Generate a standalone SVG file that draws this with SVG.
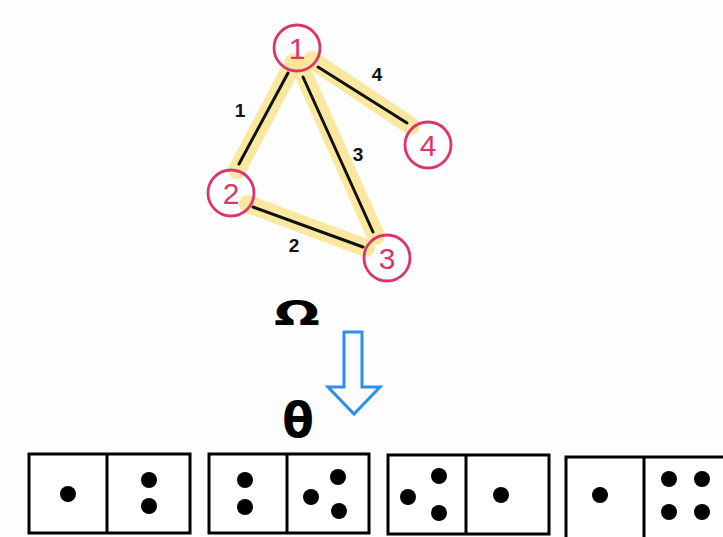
<svg xmlns="http://www.w3.org/2000/svg" width="723" height="537" viewBox="0 0 723 537">
<defs>
<style>
.hl{stroke:#fbe596;stroke-opacity:0.9;stroke-width:18;stroke-linecap:round;fill:none}
.edge{stroke:#111;stroke-width:3;stroke-linecap:round;fill:none}
.node{fill:none;stroke:#d9366d;stroke-width:2.8}
.nl{font-family:"Liberation Sans",Arial,sans-serif;font-size:30px;fill:#d9366d;text-anchor:middle;dominant-baseline:central}
.el{font-family:"Liberation Sans",Arial,sans-serif;font-size:19px;font-weight:bold;fill:#111;text-anchor:middle;dominant-baseline:central}
.sym{font-family:"DejaVu Sans",sans-serif;font-weight:bold;fill:#000;text-anchor:middle;dominant-baseline:central}
.dom{fill:#fff;stroke:#000;stroke-width:3}
.div{stroke:#000;stroke-width:3}
.dot{fill:#000}
</style>
</defs>
<rect width="723" height="537" fill="#fdfdfd"/>
<g id="connectors">
<line class="hl" x1="294" y1="62" x2="237" y2="170"/>
<line class="hl" x1="300" y1="66" x2="376" y2="236"/>
<line class="hl" x1="312" y1="60" x2="411" y2="126"/>
<line class="hl" x1="248" y1="204" x2="366" y2="248"/>
<line class="edge" x1="288" y1="73" x2="239" y2="164"/>
<line class="edge" x1="303" y1="77" x2="373" y2="232"/>
<line class="edge" x1="318" y1="67" x2="407" y2="123"/>
<line class="edge" x1="253" y1="207" x2="363" y2="247"/>
<text class="el" x="240" y="110">1</text>
<text class="el" x="377" y="74">4</text>
<text class="el" x="358" y="154">3</text>
<text class="el" x="294" y="245">2</text>
</g>
<g id="node1"><circle class="node" cx="297" cy="48" r="23"/><text class="nl" x="297" y="48">1</text></g>
<g id="node2"><circle class="node" cx="231" cy="193" r="23"/><text class="nl" x="231" y="193">2</text></g>
<g id="node3"><circle class="node" cx="387" cy="258" r="23"/><text class="nl" x="387" y="258">3</text></g>
<g id="node4"><circle class="node" cx="428" cy="145" r="23"/><text class="nl" x="428" y="145">4</text></g>
<g id="omega"><text class="sym" font-size="40" transform="translate(297 313) scale(1.35 0.85)" x="0" y="0">Ω</text></g>
<g id="arrow"><path d="M344 332 H362 V387 H380 L354 414 L328 387 H344 Z" fill="none" stroke="#2b8ff0" stroke-width="3" stroke-linejoin="miter"/></g>
<g id="theta"><text class="sym" font-size="46" transform="translate(298 420) scale(1 1.05)" x="0" y="0">θ</text></g>
<g id="domino1">
<rect class="dom" x="29" y="454" width="161" height="79"/>
<line class="div" x1="107" y1="454" x2="107" y2="533"/>
<circle class="dot" cx="68" cy="494" r="8"/>
<circle class="dot" cx="149" cy="480" r="8"/><circle class="dot" cx="149" cy="506" r="8"/>
</g>
<g id="domino2">
<rect class="dom" x="209" y="454" width="160" height="79"/>
<line class="div" x1="287" y1="454" x2="287" y2="533"/>
<circle class="dot" cx="245" cy="480" r="8"/><circle class="dot" cx="245" cy="507" r="8"/>
<circle class="dot" cx="338" cy="477" r="8"/><circle class="dot" cx="311" cy="497" r="8"/><circle class="dot" cx="339" cy="511" r="8"/>
</g>
<g id="domino3">
<rect class="dom" x="388" y="455" width="161" height="79"/>
<line class="div" x1="466" y1="455" x2="466" y2="534"/>
<circle class="dot" cx="408" cy="497" r="8"/><circle class="dot" cx="439" cy="476" r="8"/><circle class="dot" cx="439" cy="513" r="8"/>
<circle class="dot" cx="501" cy="495" r="8"/>
</g>
<g id="domino4">
<rect class="dom" x="566" y="457" width="170" height="82"/>
<line class="div" x1="644" y1="457" x2="644" y2="537"/>
<circle class="dot" cx="600" cy="495" r="8"/>
<circle class="dot" cx="669" cy="479" r="8"/><circle class="dot" cx="702" cy="479" r="8"/>
<circle class="dot" cx="669" cy="512" r="8"/><circle class="dot" cx="702" cy="512" r="8"/>
</g>
</svg>
